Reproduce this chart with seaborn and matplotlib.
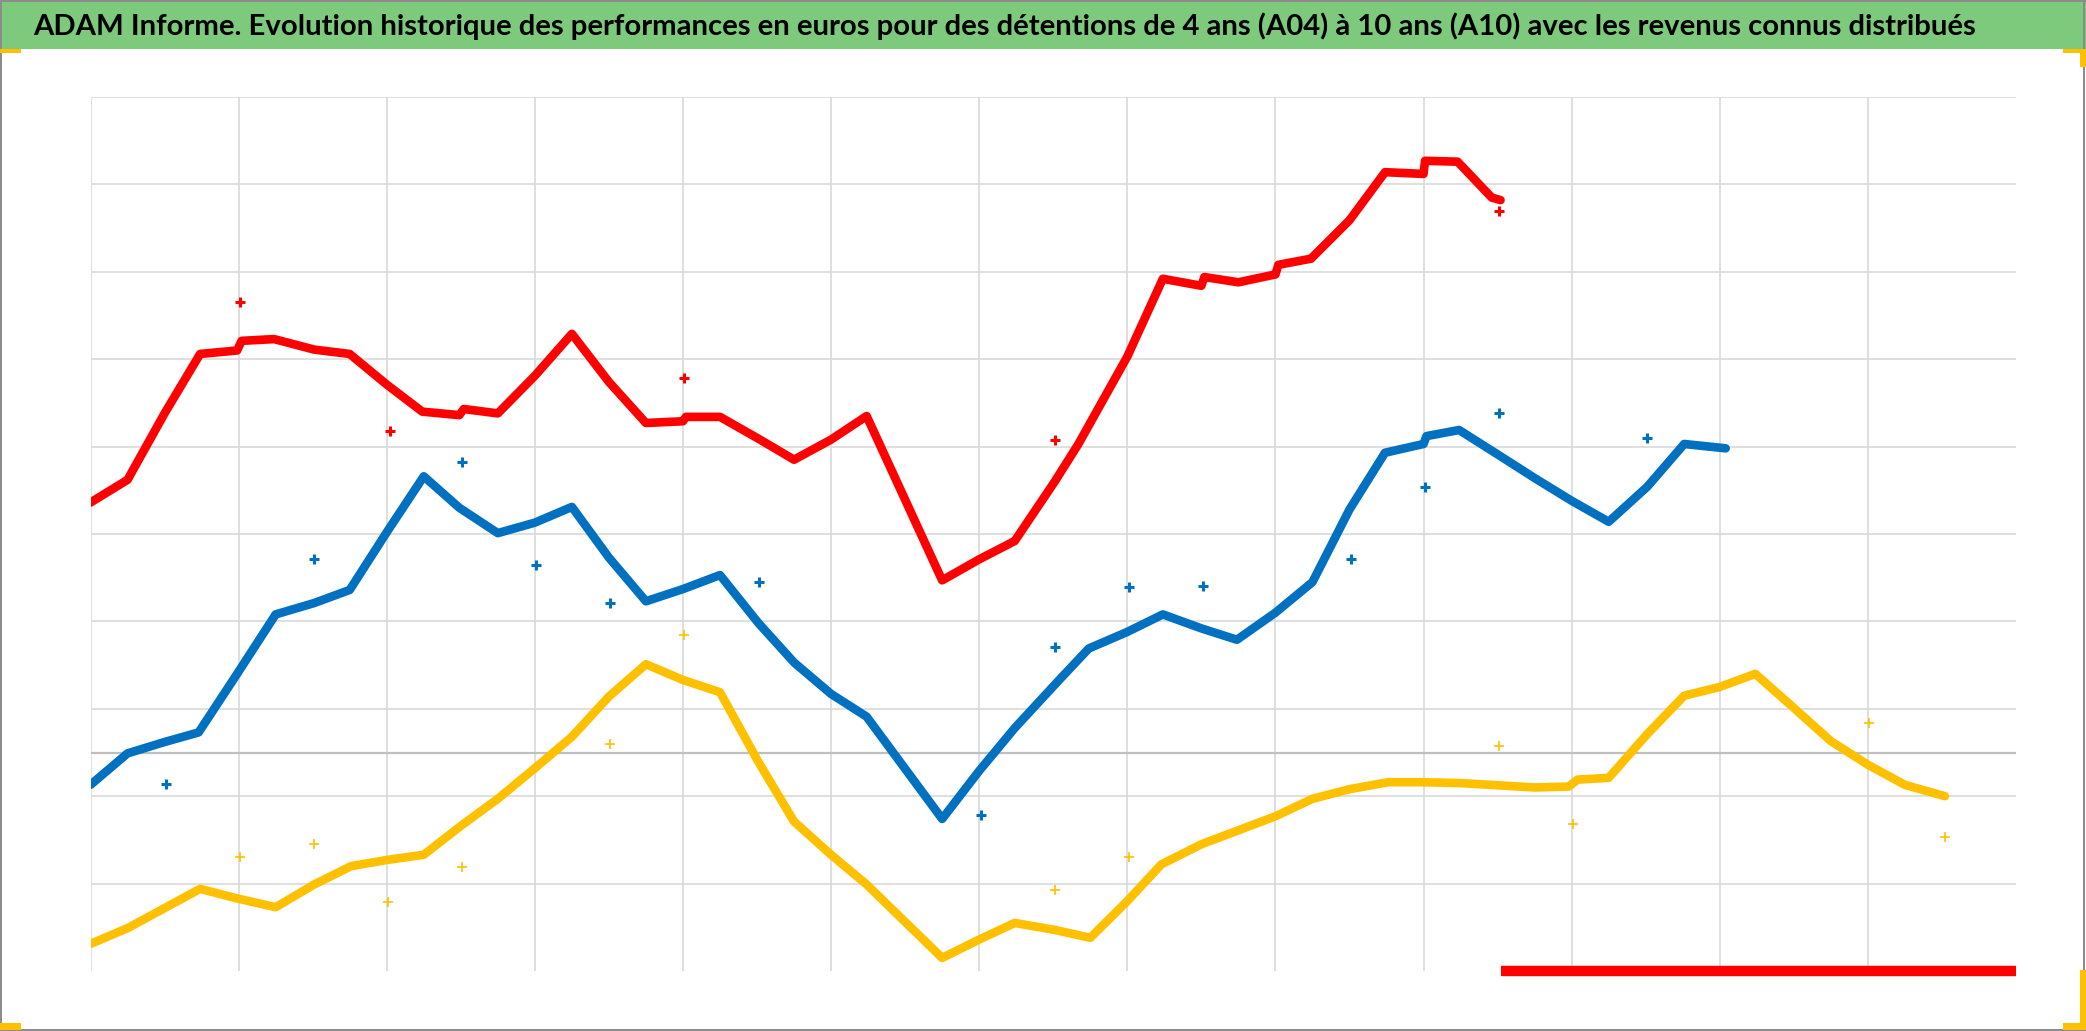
import matplotlib
matplotlib.use("Agg")
import matplotlib.pyplot as plt
import seaborn as sns
from matplotlib.patches import Rectangle

# values, in gridline units (x: 13 columns, y: 10 rows)
red_x = [0.00, 0.25, 0.50, 0.74, 0.99, 1.02, 1.24, 1.51, 1.75, 2.00, 2.24, 2.49, 2.52,
         2.75, 3.00, 3.25, 3.50, 3.75, 4.00, 4.02, 4.25, 4.51, 4.75, 5.00, 5.24, 5.75,
         6.00, 6.24, 6.51, 6.67, 7.00, 7.24, 7.50, 7.52, 7.75, 8.00, 8.02, 8.24, 8.50,
         8.74, 9.00, 9.01, 9.23, 9.46, 9.52]
red_y = [5.36, 5.62, 6.38, 7.06, 7.10, 7.21, 7.23, 7.11, 7.06, 6.71, 6.40, 6.36, 6.43,
         6.38, 6.81, 7.29, 6.74, 6.27, 6.29, 6.34, 6.34, 6.09, 5.85, 6.08, 6.35, 4.47,
         4.71, 4.92, 5.60, 6.03, 7.03, 7.92, 7.84, 7.94, 7.88, 7.97, 8.08, 8.15, 8.59,
         9.14, 9.12, 9.27, 9.26, 8.85, 8.82]
red_out_x = [1.01, 2.02, 4.01, 6.51, 9.51]
red_out_y = [7.66, 6.18, 6.79, 6.08, 8.70]
red_zero_x = [9.52, 13.0]
red_zero_y = [0.0, 0.0]

blue_x = [0.00, 0.25, 0.50, 0.73, 0.99, 1.25, 1.51, 1.75, 2.00, 2.25, 2.49, 2.75, 3.00,
          3.25, 3.50, 3.75, 4.00, 4.25, 4.51, 4.75, 5.00, 5.24, 5.75, 6.00, 6.24, 6.54,
          6.74, 7.00, 7.24, 7.50, 7.74, 8.00, 8.25, 8.50, 8.74, 9.00, 9.02, 9.24, 9.51,
          9.75, 10.00, 10.25, 10.51, 10.76, 11.04]
blue_y = [2.13, 2.49, 2.62, 2.73, 3.40, 4.08, 4.21, 4.36, 5.02, 5.66, 5.30, 5.01, 5.13,
          5.31, 4.73, 4.23, 4.37, 4.53, 3.98, 3.53, 3.17, 2.91, 1.74, 2.29, 2.78, 3.33,
          3.69, 3.88, 4.08, 3.92, 3.79, 4.10, 4.45, 5.28, 5.93, 6.03, 6.12, 6.19, 5.90,
          5.64, 5.38, 5.14, 5.54, 6.03, 5.98]
blue_out_x = [0.51, 1.51, 2.51, 3.01, 3.51, 4.51, 6.01, 6.51, 7.01, 7.51, 8.51, 9.01,
              9.51, 10.51]
blue_out_y = [2.14, 4.71, 5.82, 4.65, 4.21, 4.45, 1.79, 3.71, 4.39, 4.40, 4.71, 5.54,
              6.38, 6.10]

yellow_x = [0.00, 0.25, 0.74, 0.99, 1.25, 1.51, 1.76, 2.00, 2.25, 2.50, 2.75, 3.00,
            3.25, 3.50, 3.75, 4.00, 4.25, 4.51, 4.75, 5.00, 5.24, 5.75, 6.00, 6.24,
            6.51, 6.75, 7.00, 7.23, 7.50, 8.00, 8.25, 8.50, 8.76, 9.00, 9.25, 9.75,
            9.98, 10.04, 10.25, 10.51, 10.76, 11.00, 11.24, 11.50, 11.75, 12.00,
            12.25, 12.52]
yellow_y = [0.31, 0.49, 0.94, 0.83, 0.73, 0.99, 1.20, 1.27, 1.33, 1.66, 1.97, 2.32,
            2.68, 3.14, 3.51, 3.33, 3.19, 2.39, 1.71, 1.33, 0.99, 0.15, 0.36, 0.55,
            0.47, 0.38, 0.80, 1.22, 1.45, 1.77, 1.97, 2.08, 2.16, 2.16, 2.15, 2.10,
            2.11, 2.19, 2.21, 2.71, 3.15, 3.25, 3.40, 3.01, 2.63, 2.36, 2.13, 2.00]
yellow_out_x = [1.01, 1.51, 2.01, 2.51, 3.51, 4.01, 6.51, 7.01, 9.51, 10.01, 12.01, 12.52]
yellow_out_y = [1.31, 1.45, 0.79, 1.19, 2.60, 3.84, 0.93, 1.31, 2.57, 1.68, 2.84, 1.53]

title = ("ADAM Informe. Evolution historique des performances en euros pour des "
         "détentions de 4 ans (A04) à 10 ans (A10) avec les revenus connus distribués")

RED, BLUE, YELLOW = "#FF0000", "#0070C0", "#FFC000"

sns.set_theme(style="white")
plt.rcParams["font.family"] = ["Liberation Sans", "DejaVu Sans"]
matplotlib.set_loglevel("error")

W, H = 2086, 1031
fig = plt.figure(figsize=(W / 100, H / 100), dpi=100)
fig.patch.set_facecolor("white")

# axes box in pixels
left, right, top, bottom = 90.5, 2016, 97, 971
ax = fig.add_axes([left / W, 1 - bottom / H, (right - left) / W, (bottom - top) / H])
ax.set_xlim(0, 13)
ax.set_ylim(0, 10)
ax.set_xticks(range(0, 13))
ax.set_yticks(range(1, 11))
ax.grid(True, color="#D9D9D9", linewidth=1.2)
ax.tick_params(length=0, labelleft=False, labelbottom=False)
for sp in ax.spines.values():
    sp.set_visible(False)
ax.axhline(2.5, color="#BFBFBF", linewidth=1.6, zorder=1)

lw = 6.2
sns.lineplot(x=yellow_x, y=yellow_y, ax=ax, color=YELLOW, linewidth=lw,
             estimator=None, sort=False, zorder=3)
sns.lineplot(x=blue_x, y=blue_y, ax=ax, color=BLUE, linewidth=lw,
             estimator=None, sort=False, zorder=4)
sns.lineplot(x=red_x, y=red_y, ax=ax, color=RED, linewidth=lw,
             estimator=None, sort=False, zorder=5)
sns.lineplot(x=red_zero_x, y=red_zero_y, ax=ax, color=RED, linewidth=7.5,
             estimator=None, sort=False, zorder=6)
ax.lines[-1].set_clip_on(False)
ax.lines[-1].set_solid_capstyle("butt")

sns.scatterplot(x=yellow_out_x, y=yellow_out_y, ax=ax, marker="+", s=60,
                color=YELLOW, linewidth=1.2, zorder=6)
sns.scatterplot(x=blue_out_x, y=blue_out_y, ax=ax, marker="+", s=50,
                color=BLUE, linewidth=2.2, zorder=6)
sns.scatterplot(x=red_out_x, y=red_out_y, ax=ax, marker="+", s=50,
                color=RED, linewidth=2.2, zorder=6)

# green title banner
banner_h = 49
fig.patches.append(Rectangle((0, 1 - banner_h / H), 1, banner_h / H,
                             transform=fig.transFigure, facecolor="#7DCA7D",
                             edgecolor="none", zorder=0))

# pick the narrowest available bold face so the title fills its width with tall letters
renderer = fig.canvas.get_renderer()
candidates = [("Liberation Sans Narrow", "normal"), ("DejaVu Sans", "condensed"),
              ("Noto Sans", "condensed"), ("Open Sans", "condensed"),
              ("Roboto", "normal"), ("Lato", "normal"), ("Liberation Sans", "normal")]
best = None
for fam, stretch in candidates:
    t = fig.text(0, 0, title, fontsize=24, fontweight="bold", family=[fam],
                 fontstretch=stretch)
    w = t.get_window_extent(renderer=renderer).width
    t.remove()
    size = min(24 * 1947 / w, 25)
    if best is None or size > best[0]:
        best = (size, fam, stretch)

size, fam, stretch = best
t = fig.text(33 / W, 1 - 26 / H, title, ha="left", va="center", fontsize=size,
             fontweight="bold", family=[fam, "DejaVu Sans"], fontstretch=stretch,
             color="black")

# outer frame and orange selection handles
def px_rect(x0, y0, x1, y1, color):
    fig.patches.append(Rectangle((x0 / W, 1 - y1 / H), (x1 - x0) / W, (y1 - y0) / H,
                                 transform=fig.transFigure, facecolor=color,
                                 edgecolor="none", zorder=10))

px_rect(0, 0, W, 1.5, "#8C8C8C")
px_rect(0, 1029, W, 1031, "#8C8C8C")
px_rect(0, 0, 1.5, H, "#8C8C8C")
px_rect(2083, 0, 2085, H, "#8C8C8C")
px_rect(0, 49, 21, 53, YELLOW)
px_rect(2063, 49, 2086, 53, YELLOW)
px_rect(2080, 49, 2086, 67, YELLOW)
px_rect(0, 1023, 21, 1030, YELLOW)
px_rect(2063, 1023, 2086, 1030, YELLOW)
px_rect(2080, 970, 2086, 1030, YELLOW)

fig.savefig("out.png", dpi=100)
plt.close(fig)
